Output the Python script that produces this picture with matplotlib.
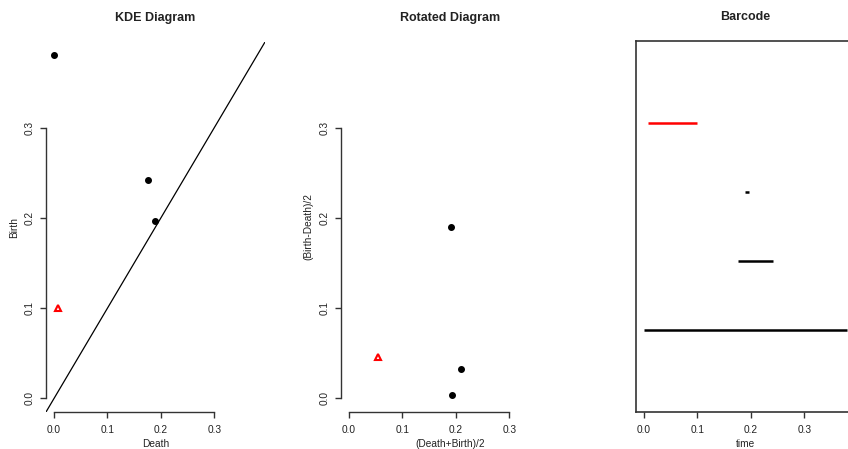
import matplotlib
matplotlib.use("Agg")
import matplotlib.pyplot as plt
import numpy as np

plt.rcParams['font.family'] = ['Liberation Sans', 'DejaVu Sans']

# Persistence diagram data (KDE superlevel)
death = np.array([0.0, 0.176, 0.189, 0.0075])
birth = np.array([0.381, 0.242, 0.197, 0.100])
dims = np.array([0, 0, 0, 1])
ticks = [0.0, 0.1, 0.2, 0.3]
tick_labels = ["0.0", "0.1", "0.2", "0.3"]
bar_pos = [1, 2, 3, 4]

W, H = 848, 449
fig = plt.figure(figsize=(W / 100, H / 100), dpi=100)

def rect(x0, x1, ytop, ybot):
    return [x0 / W, (H - ybot) / H, (x1 - x0) / W, (ybot - ytop) / H]

lim = (0 - 0.04 * 0.38, 0.38 + 0.04 * 0.38)
axis_col = '#333333'
text_col = '#222222'
tfs = 7.3

def style_r(ax, xlabel, ylabel, title):
    for s in ['top', 'right']:
        ax.spines[s].set_visible(False)
    for s in ['left', 'bottom']:
        ax.spines[s].set_color(axis_col)
        ax.spines[s].set_linewidth(1.0)
        ax.spines[s].set_bounds(0, 0.3)
    ax.set_xlim(lim)
    ax.set_ylim(lim)
    ax.set_xticks(ticks)
    ax.set_xticklabels(tick_labels)
    ax.set_yticks(ticks)
    ax.set_yticklabels(tick_labels, rotation=90, va='center')
    ax.tick_params(direction='out', length=4, width=1.0, color=axis_col,
                   labelsize=tfs, labelcolor=text_col)
    ax.tick_params(axis='x', pad=5.5)
    ax.tick_params(axis='y', pad=4)
    ax.set_xlabel(xlabel, fontsize=tfs, color=text_col, labelpad=2.5)
    ax.set_ylabel(ylabel, fontsize=tfs, color=text_col, labelpad=4.5)
    ax.set_title(title, fontsize=9, fontweight='bold', color=text_col, pad=15)

def draw_points(ax, x, y):
    m0 = dims == 0
    m1 = dims == 1
    ax.plot(x[m0], y[m0], 'o', color='black', markersize=4, clip_on=False)
    ax.plot(x[m1], y[m1], '^', markerfacecolor='white', markeredgecolor='red',
            markeredgewidth=1.5, markersize=4.5, clip_on=False)

# Panel 1: KDE Diagram
ax1 = fig.add_axes(rect(46, 265, 42, 412))
ax1.axline((0, 0), slope=1, color='black', linewidth=0.9)
draw_points(ax1, death, birth)
style_r(ax1, "Death", "Birth", "KDE Diagram")

# Panel 2: Rotated Diagram
ax2 = fig.add_axes(rect(341, 560, 42, 412))
draw_points(ax2, (death + birth) / 2, (birth - death) / 2)
style_r(ax2, "(Death+Birth)/2", "(Birth-Death)/2", "Rotated Diagram")

# Panel 3: Barcode
ax3 = fig.add_axes(rect(636, 855, 41, 412))
for d, b, dm, yp in zip(death, birth, dims, bar_pos):
    ax3.plot([d, b], [yp, yp], color='red' if dm == 1 else 'black',
             linewidth=1.8, solid_capstyle='butt')
ax3.set_xlim(lim)
ax3.set_ylim(-0.2, 5.2)
ax3.set_yticks([])
ax3.set_xticks(ticks)
ax3.set_xticklabels(tick_labels)
for s in ax3.spines.values():
    s.set_color(axis_col)
    s.set_linewidth(1.2)
ax3.tick_params(direction='out', length=4, width=1.0, color=axis_col,
                labelsize=tfs, labelcolor=text_col, pad=5.5)
ax3.set_xlabel("time", fontsize=tfs, color=text_col, labelpad=2.5)
ax3.set_title("Barcode", fontsize=9, fontweight='bold', color=text_col, pad=15)

fig.savefig("out.png", dpi=100)
